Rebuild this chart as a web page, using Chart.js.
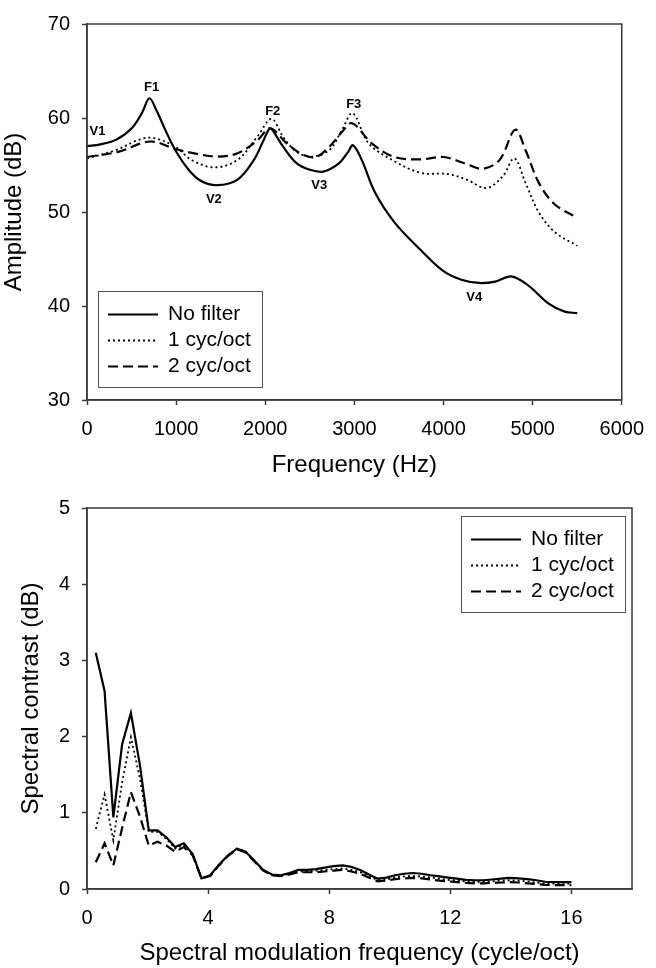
<!DOCTYPE html>
<html>
<head>
<meta charset="utf-8">
<script src="https://cdn.jsdelivr.net/npm/chart.js@4.4.1/dist/chart.umd.min.js"></script>
<style>
  body { margin: 0; background: #fff; }
  canvas { display: block; }
</style>
</head>
<body>
<canvas id="amp" width="656" height="484"></canvas>
<canvas id="contrast" width="656" height="484"></canvas>
<script>
// top panel: spectrum amplitude (Hz, dB)
const noFilterHz = [0, 150, 330, 510, 620, 700, 780, 880, 990, 1140, 1280, 1460, 1690, 1870, 1980, 2055, 2130, 2200, 2350, 2500, 2650, 2830, 2930, 2985, 3080, 3230, 3450, 3750, 4000, 4200, 4400, 4580, 4760, 4950, 5180, 5360, 5500];
const noFilterDb = [57.0, 57.2, 57.7, 59.0, 60.6, 62.1, 60.8, 58.7, 56.6, 54.5, 53.3, 52.85, 53.45, 55.5, 57.6, 58.9, 58.0, 56.95, 55.2, 54.5, 54.3, 55.2, 56.4, 57.1, 55.6, 52.1, 48.9, 45.9, 43.7, 42.8, 42.45, 42.6, 43.15, 42.2, 40.25, 39.4, 39.25];
const oneCycHz = [0, 330, 560, 730, 990, 1170, 1430, 1690, 1910, 2070, 2200, 2350, 2530, 2720, 2860, 2980, 3160, 3450, 3750, 4040, 4260, 4480, 4665, 4795, 4920, 5070, 5250, 5500];
const oneCycDb = [55.7, 56.6, 57.6, 57.9, 56.95, 55.55, 54.75, 55.55, 58.0, 59.9, 58.0, 56.4, 55.9, 56.6, 58.7, 60.5, 57.3, 55.4, 54.15, 54.05, 53.45, 52.55, 53.8, 55.7, 53.1, 49.95, 47.85, 46.4];
const twoCycHz = [0, 350, 710, 990, 1250, 1470, 1690, 1910, 2055, 2240, 2420, 2570, 2720, 2860, 2975, 3195, 3450, 3750, 4000, 4260, 4445, 4630, 4805, 4920, 5070, 5250, 5500];
const twoCycDb = [55.85, 56.4, 57.5, 56.7, 56.15, 55.9, 56.25, 57.6, 58.9, 57.3, 56.1, 55.85, 56.95, 58.5, 59.45, 57.3, 55.85, 55.6, 55.85, 55.1, 54.6, 55.55, 58.75, 56.6, 53.1, 50.8, 49.4];

const peakNames = ['V1', 'F1', 'F2', 'V2', 'V3', 'F3', 'V4'];
const peakHz = [118, 724, 2084, 1423, 2606, 2993, 4344];
const peakDb = [58.6, 63.2, 60.7, 51.35, 52.8, 61.4, 40.9];

// bottom panel: spectral contrast (cycle/oct, dB)
const modFreq = [0.29, 0.58, 0.87, 1.16, 1.45, 1.75, 2.04, 2.33, 2.62, 2.91, 3.2, 3.49, 3.78, 4.07, 4.36, 4.65, 4.95, 5.24, 5.53, 5.82, 6.11, 6.4, 6.69, 6.98, 7.27, 7.56, 7.85, 8.15, 8.44, 8.73, 9.02, 9.31, 9.6, 9.89, 10.18, 10.47, 10.76, 11.05, 11.35, 11.64, 11.93, 12.22, 12.51, 12.8, 13.09, 13.38, 13.67, 13.96, 14.25, 14.55, 14.84, 15.13, 15.42, 15.71, 16.0];
const contrastNoFilter = [3.1, 2.6, 0.94, 1.9, 2.31, 1.62, 0.77, 0.77, 0.68, 0.55, 0.6, 0.46, 0.14, 0.18, 0.32, 0.44, 0.53, 0.49, 0.37, 0.25, 0.19, 0.18, 0.21, 0.25, 0.25, 0.26, 0.28, 0.3, 0.31, 0.29, 0.25, 0.19, 0.135, 0.15, 0.18, 0.2, 0.21, 0.2, 0.18, 0.165, 0.15, 0.135, 0.12, 0.115, 0.115, 0.125, 0.135, 0.145, 0.14, 0.13, 0.115, 0.095, 0.09, 0.09, 0.09];
const contrastOneCyc = [0.79, 1.24, 0.64, 1.4, 1.99, 1.45, 0.75, 0.75, 0.66, 0.53, 0.58, 0.45, 0.14, 0.18, 0.32, 0.44, 0.53, 0.49, 0.37, 0.25, 0.18, 0.17, 0.2, 0.23, 0.235, 0.24, 0.25, 0.26, 0.27, 0.25, 0.22, 0.17, 0.115, 0.125, 0.15, 0.165, 0.17, 0.165, 0.15, 0.135, 0.12, 0.11, 0.1, 0.095, 0.095, 0.1, 0.11, 0.115, 0.11, 0.1, 0.085, 0.07, 0.07, 0.07, 0.07];
const contrastTwoCyc = [0.35, 0.6, 0.31, 0.8, 1.27, 0.95, 0.57, 0.62, 0.57, 0.49, 0.55, 0.44, 0.14, 0.17, 0.31, 0.43, 0.52, 0.48, 0.36, 0.24, 0.18, 0.17, 0.19, 0.22, 0.22, 0.22, 0.23, 0.24, 0.25, 0.23, 0.2, 0.15, 0.1, 0.11, 0.13, 0.14, 0.145, 0.14, 0.125, 0.11, 0.1, 0.09, 0.08, 0.075, 0.075, 0.08, 0.085, 0.09, 0.085, 0.075, 0.065, 0.055, 0.05, 0.05, 0.05];

const seriesNames = ['No filter', '1 cyc/oct', '2 cyc/oct'];

const FONT = '"Liberation Sans", Arial, sans-serif';
Chart.defaults.font.family = FONT;
Chart.defaults.color = '#000';

const pts = (xs, ys) => xs.map((x, i) => ({ x: x, y: ys[i] }));

function lineSet(label, data, dash, width, tension) {
    return {
        label: label,
        data: data,
        borderColor: '#000',
        borderWidth: width,
        borderDash: dash,
        pointRadius: 0,
        tension: tension,
        fill: false
    };
}

// box round the plot area
const frame = {
    id: 'frame',
    afterDraw(chart) {
        const { ctx, chartArea: a } = chart;
        ctx.save();
        ctx.strokeStyle = '#3a3a3a';
        ctx.lineWidth = 1.5;
        ctx.strokeRect(a.left, a.top, a.right - a.left, a.bottom - a.top);
        ctx.restore();
    }
};

// legend in a box inside the plot
const boxLegend = {
    id: 'boxLegend',
    afterDraw(chart, args, opts) {
        const { ctx, chartArea: a } = chart;
        const w = 164, h = 96;
        const left = opts.corner === 'topright' ? a.right - 7 - w : a.left + 11;
        const top = opts.corner === 'topright' ? a.top + 8 : a.bottom - 13 - h;
        ctx.save();
        ctx.strokeStyle = '#555';
        ctx.lineWidth = 1;
        ctx.strokeRect(left + 0.5, top + 0.5, w, h);
        ctx.font = '21px ' + FONT;
        ctx.fillStyle = '#000';
        ctx.strokeStyle = '#000';
        ctx.textBaseline = 'middle';
        chart.data.datasets.forEach((ds, i) => {
            const yy = top + 23.5 + i * 26;
            ctx.setLineDash(ds.borderDash || []);
            ctx.lineWidth = ds.borderWidth;
            ctx.beginPath();
            ctx.moveTo(left + 10, yy);
            ctx.lineTo(left + 60, yy);
            ctx.stroke();
            ctx.setLineDash([]);
            ctx.fillText(ds.label, left + 70, yy);
        });
        ctx.restore();
    }
};

// F / V markers on the spectrum
const peakLabels = {
    id: 'peakLabels',
    afterDatasetsDraw(chart, args, opts) {
        if (!opts.names) return;
        const { ctx, scales: { x, y } } = chart;
        ctx.save();
        ctx.font = 'bold 13px ' + FONT;
        ctx.fillStyle = '#000';
        ctx.textAlign = 'center';
        ctx.textBaseline = 'middle';
        opts.names.forEach((t, i) => {
            ctx.fillText(t, x.getPixelForValue(opts.hz[i]), y.getPixelForValue(opts.db[i]));
        });
        ctx.restore();
    }
};

function axis(min, max, step, title, titlePad, fit) {
    return {
        type: 'linear',
        min: min,
        max: max,
        ticks: {
            stepSize: step,
            includeBounds: false,
            padding: 12,
            color: '#000',
            font: { size: 20 },
            callback: v => String(v)
        },
        grid: {
            drawOnChartArea: false,
            drawTicks: true,
            tickLength: 5,
            tickColor: '#3a3a3a',
            tickWidth: 1.5
        },
        border: { color: '#3a3a3a', width: 1.5 },
        title: {
            display: true,
            text: title,
            color: '#000',
            font: { size: 24 },
            padding: titlePad
        },
        afterFit: fit
    };
}

new Chart(document.getElementById('amp'), {
    type: 'line',
    data: {
        datasets: [
            lineSet(seriesNames[0], pts(noFilterHz, noFilterDb), [], 2.2, 0.35),
            lineSet(seriesNames[1], pts(oneCycHz, oneCycDb), [2, 3], 1.8, 0.35),
            lineSet(seriesNames[2], pts(twoCycHz, twoCycDb), [10, 5], 2.2, 0.35)
        ]
    },
    options: {
        responsive: false,
        animation: false,
        layout: { padding: { top: 19, right: 25, left: 0, bottom: 0 } },
        scales: {
            x: axis(0, 6000, 1000, 'Frequency (Hz)', { top: 0, bottom: 4 }, s => { s.height = 84; }),
            y: axis(30, 70, 10, 'Amplitude (dB)', { top: 0, bottom: 0 }, s => { s.width = 87; })
        },
        plugins: {
            legend: { display: false },
            tooltip: { enabled: false },
            boxLegend: { corner: 'bottomleft' },
            peakLabels: { names: peakNames, hz: peakHz, db: peakDb }
        }
    },
    plugins: [frame, boxLegend, peakLabels]
});

new Chart(document.getElementById('contrast'), {
    type: 'line',
    data: {
        datasets: [
            lineSet(seriesNames[0], pts(modFreq, contrastNoFilter), [], 2.2, 0),
            lineSet(seriesNames[1], pts(modFreq, contrastOneCyc), [2, 3], 1.8, 0),
            lineSet(seriesNames[2], pts(modFreq, contrastTwoCyc), [10, 5], 2.2, 0)
        ]
    },
    options: {
        responsive: false,
        animation: false,
        layout: { padding: { top: 24, right: 24, left: 0, bottom: 0 } },
        scales: {
            x: axis(0, 18, 4, 'Spectral modulation frequency (cycle/oct)', { top: 0, bottom: 0 }, s => { s.height = 79; }),
            y: axis(0, 5, 1, 'Spectral contrast (dB)', { top: 17, bottom: 0 }, s => { s.width = 87; })
        },
        plugins: {
            legend: { display: false },
            tooltip: { enabled: false },
            boxLegend: { corner: 'topright' }
        }
    },
    plugins: [frame, boxLegend]
});
</script>
</body>
</html>
